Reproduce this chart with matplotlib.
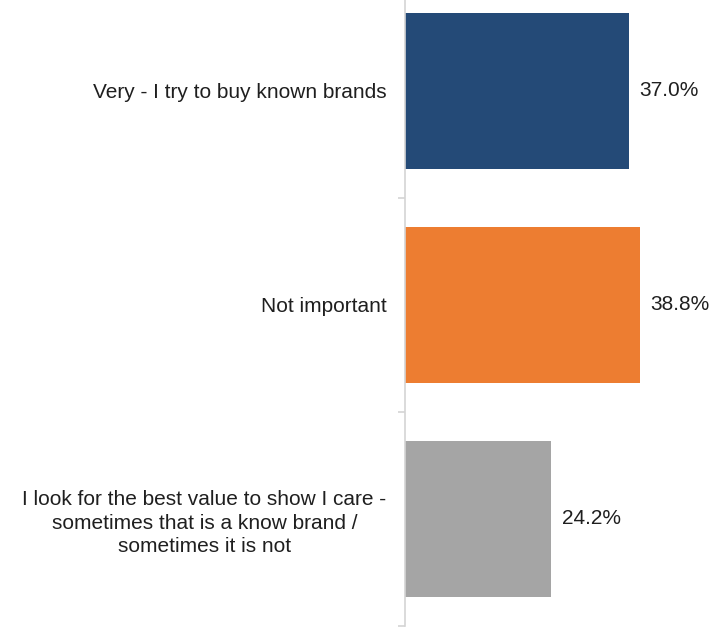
import matplotlib.pyplot as plt

categories = [
    "Very - I try to buy known brands",
    "Not important",
    "I look for the best value to show I care -\nsometimes that is a know brand /\nsometimes it is not",
]
values = [37.0, 38.8, 24.2]
colors = ["#244A77", "#ED7D31", "#A5A5A5"]

plt.rcParams['font.family'] = ['Liberation Sans', 'DejaVu Sans']

fig = plt.figure(figsize=(7.23, 6.28), dpi=100)
ax = fig.add_axes([0.5595, 0.0032, 0.420, 1.0223])

pos = list(range(len(categories)))
ax.barh(pos, values, height=0.733, color=colors)
ax.set_ylim(len(categories) - 0.5, -0.5)
ax.set_xlim(0, 50)

for p, v in zip(pos, values):
    ax.text(v + 1.7, p, f"{v:.1f}%", va='center', ha='left', fontsize=15, color='#1f1f1f')

ax.set_yticks(pos)
ax.set_yticklabels(categories, fontsize=15, color='#1f1f1f', ha='right',
                   multialignment='center', linespacing=1.3)
ax.set_yticks([0.5, 1.5, 2.5], minor=True)
ax.tick_params(axis='y', which='major', length=0, pad=13)
ax.tick_params(axis='y', which='minor', length=5, color='#d4d4d4', width=1.2)
ax.set_xticks([])
for s in ['top', 'right', 'bottom']:
    ax.spines[s].set_visible(False)
ax.spines['left'].set_color('#d4d4d4')
ax.spines['left'].set_linewidth(1.2)

fig.savefig('out.png', dpi=100)
